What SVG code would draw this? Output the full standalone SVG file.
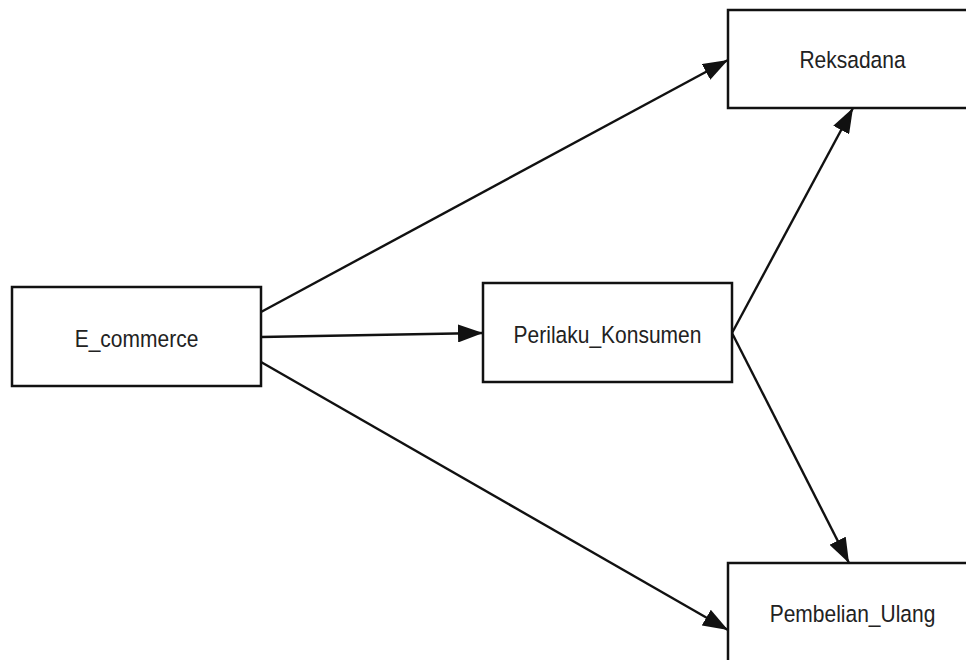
<svg xmlns="http://www.w3.org/2000/svg" width="966" height="660" viewBox="0 0 966 660">
<style>
.box{fill:#fff;stroke:#111;stroke-width:2.5}
.lbl{font-family:"Liberation Sans",Arial,sans-serif;font-size:21px;fill:#222;text-anchor:middle}
.edge{stroke:#111;stroke-width:2.4;fill:none;marker-end:url(#ah)}
</style>
<defs>
<marker id="ah" markerUnits="userSpaceOnUse" markerWidth="26" markerHeight="18" refX="25" refY="9" orient="auto">
<path d="M0,0 L25,9 L0,18 z" fill="#111"/>
</marker>
</defs>
<rect width="966" height="660" fill="#fff"/>
<g id="connectors">
<line class="edge" x1="261" y1="312" x2="728" y2="60"/>
<line class="edge" x1="261" y1="337" x2="483" y2="333"/>
<line class="edge" x1="261" y1="362" x2="728" y2="630"/>
<line class="edge" x1="732" y1="333" x2="853" y2="108"/>
<line class="edge" x1="732" y1="333" x2="849" y2="563"/>
</g>
<g id="E_commerce">
<rect class="box" x="12" y="287" width="249" height="99"/>
<text class="lbl" transform="translate(136.5,347) scale(1,1.18)">E_commerce</text>
</g>
<g id="Perilaku_Konsumen">
<rect class="box" x="483" y="283" width="249" height="99"/>
<text class="lbl" transform="translate(607.5,343) scale(1,1.18)">Perilaku_Konsumen</text>
</g>
<g id="Reksadana">
<rect class="box" x="728" y="10" width="249" height="98"/>
<text class="lbl" transform="translate(852.5,68) scale(1,1.18)">Reksadana</text>
</g>
<g id="Pembelian_Ulang">
<rect class="box" x="728" y="563" width="249" height="99"/>
<text class="lbl" transform="translate(852.5,622) scale(1,1.18)">Pembelian_Ulang</text>
</g>
</svg>
